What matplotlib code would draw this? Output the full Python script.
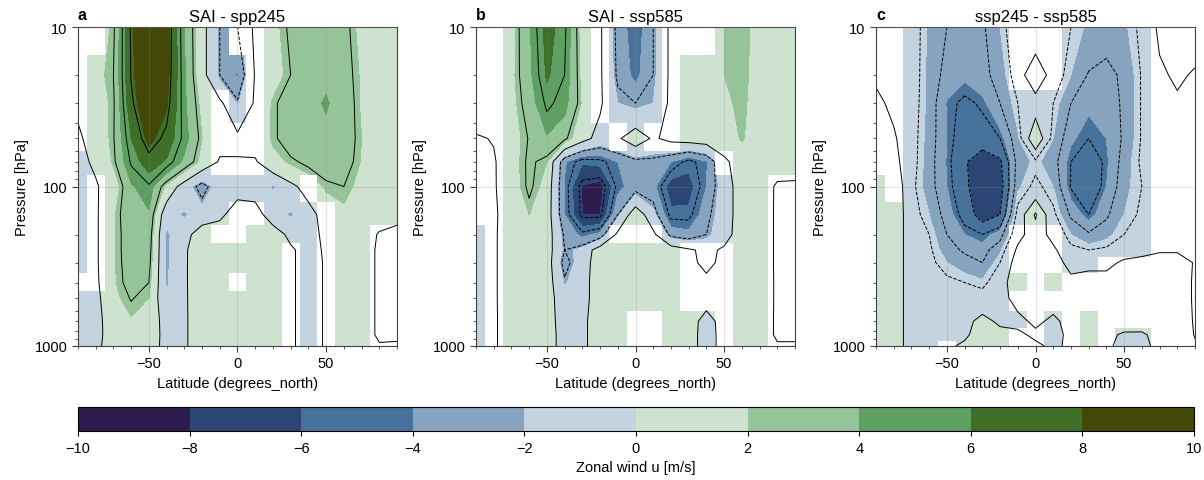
import numpy as np
import matplotlib
matplotlib.use("Agg")
import matplotlib.pyplot as plt
from matplotlib.colors import ListedColormap, BoundaryNorm
from matplotlib.ticker import MultipleLocator, NullFormatter

plt.rcParams['font.family'] = ['Liberation Sans', 'DejaVu Sans']
plt.rcParams['font.size'] = 10.5

# grid of the fields: rows are pressure levels (top to bottom), columns latitudes
lat = np.arange(-90, 91, 10)
plev = [10, 20, 30, 50, 70, 100, 150, 200, 250, 300, 400, 500, 700, 850, 1000]

titles = ['SAI - spp245', 'SAI - ssp585', 'ssp245 - ssp585']
letters = ['a', 'b', 'c']

# zonal wind difference [m/s], panel a
u_sai_245 = [
    [1.0, 1.2, 2.2, 7.8, 9.6, 8.8, 4.0, 0.8, -2.5, -2.5, 0.5, 1.5, 2.8, 3.2, 3.5, 3.0, 1.5, 1.2, 1.0],
    [1.2, 1.5, 2.5, 7.6, 9.6, 8.6, 4.2, 0.8, -2.5, -4.2, 0.2, 1.2, 2.5, 3.5, 3.8, 3.2, 1.8, 1.2, 1.0],
    [0.3, 1.2, 2.3, 7.2, 9.5, 8.2, 4.3, 1.5, 0.5, -2.2, 0.3, 2.2, 3.4, 3.7, 4.1, 3.5, 1.8, 1.3, 1.1],
    [-0.3, 0.8, 2.4, 6.0, 8.5, 7.0, 4.6, 2.0, 0.6, 0.6, 0.8, 2.2, 3.4, 3.6, 3.7, 3.4, 2.0, 1.4, 1.2],
    [-0.5, 0.3, 2.2, 5.2, 6.8, 5.8, 3.6, 1.5, -0.2, -0.2, -0.2, 1.5, 2.2, 2.9, 3.3, 3.2, 1.9, 1.4, 1.2],
    [-0.5, -0.2, 1.0, 3.8, 4.8, 1.5, -1.0, -3.3, -1.0, -0.8, -0.8, -2.2, -0.5, 0.8, 2.2, 2.5, 1.5, 1.2, 1.0],
    [-0.8, -0.3, 1.8, 3.6, 3.8, -1.5, -2.2, -1.2, -0.5, 1.1, 0.8, -1.0, -2.3, -0.8, 0.9, 1.6, 1.3, 1.0, 0.3],
    [-0.8, -0.3, 1.8, 3.4, 3.3, -2.3, -0.8, 1.2, 1.3, 1.5, 1.3, 1.0, -0.5, -0.8, 0.5, 1.2, 1.2, -0.2, -0.3],
    [-0.8, -0.3, 1.8, 3.4, 3.1, -2.3, -0.3, 1.3, 1.4, 1.5, 1.4, 1.2, 0.3, -0.8, 0.3, 1.3, 1.2, -0.4, -0.4],
    [-0.8, -0.3, 1.8, 3.3, 2.9, -2.3, -0.3, 1.4, 1.5, 1.6, 1.5, 1.3, 0.3, -0.8, 0.2, 1.3, 1.2, -0.4, -0.4],
    [-0.8, -0.4, 1.8, 3.1, 2.5, -2.2, -0.3, 1.4, 1.5, 1.6, 1.5, 1.3, 0.3, -0.8, 0.2, 1.3, 1.2, -0.4, -0.4],
    [-0.8, -0.6, 1.6, 2.6, 2.0, -2.0, -0.3, 1.3, 1.5, 1.6, 1.5, 1.3, 0.3, -0.8, 0.2, 1.3, 1.2, -0.4, -0.4],
    [-0.8, -0.8, 1.3, 1.8, 1.5, -1.0, -0.3, 1.2, 1.4, 1.5, 1.4, 1.2, 0.3, -0.8, 0.2, 1.3, 1.2, -0.4, -0.4],
    [-0.8, -0.8, 1.2, 1.3, 1.3, -0.8, -0.3, 1.2, 1.3, 1.4, 1.3, 1.2, 0.3, -0.8, 0.2, 1.3, 1.2, -0.4, -0.4],
    [-0.8, -0.5, 1.0, 1.2, 1.2, -0.8, -0.3, 1.2, 1.3, 1.4, 1.3, 1.2, 0.3, -0.8, 0.2, 1.3, 1.2, 0.2, 0.3],
]
# 1 = significant (coloured), 0 = not significant (white)
sig_sai_245 = [
    "0011111110011111111",
    "0111111111011111111",
    "0111111101011111111",
    "0111111100011111111",
    "1111111100011111111",
    "1011111111111011111",
    "1011111110011101111",
    "1011111100111101100",
    "1011111111110101100",
    "1011111111110101100",
    "0011111110110101100",
    "1111111111110101100",
    "1111111111110101100",
    "1111111111110101100",
    "1111111111110101100",
]

# panel b
u_sai_585 = [
    [0.5, 0.8, 1.5, 3.8, 6.6, 5.3, 1.2, 0.3, -3.0, -5.0, -2.5, 0.5, 0.6, 0.8, 2.0, 2.4, 1.5, 1.2, 1.0],
    [0.6, 0.9, 1.6, 3.6, 6.2, 5.0, 1.5, 0.3, -2.8, -4.5, -2.5, 0.5, 1.0, 1.1, 2.0, 2.3, 1.5, 1.2, 1.0],
    [1.1, 0.3, 1.5, 3.2, 5.3, 4.5, 1.8, 0.3, -2.0, -2.5, -2.0, 0.5, 1.2, 1.3, 1.8, 2.2, 1.5, 1.2, 1.0],
    [-0.2, 0.1, 1.3, 2.6, 3.8, 2.8, 0.8, -0.8, -0.3, 1.3, -0.3, 0.6, 1.0, 1.2, 1.4, 2.1, 1.4, 1.2, 1.0],
    [-0.4, -0.2, 1.3, 2.8, 2.0, -3.8, -5.8, -5.5, -4.0, -3.0, -3.0, -4.0, -5.5, -4.2, -0.5, 1.2, 1.3, 1.0, 0.8],
    [-0.4, -0.2, 1.2, 2.8, 1.4, -4.2, -8.2, -8.8, -4.5, -3.2, -3.5, -7.0, -6.8, -4.0, -1.0, 1.0, 1.2, -0.3, -0.3],
    [-0.4, -0.3, 1.0, 2.0, 1.2, -4.0, -8.0, -8.0, -2.5, 1.5, -1.5, -5.5, -5.5, -3.0, -1.0, 1.0, 1.1, -0.3, -0.3],
    [-0.8, -0.3, 1.2, 1.5, 1.2, -2.8, -4.5, -3.5, 0.5, 0.8, 0.5, -3.0, -3.5, -2.5, -0.8, 1.0, 1.1, -0.3, -0.3],
    [-0.8, -0.3, 1.2, 1.3, 1.1, -2.5, -1.5, 1.2, 1.3, 1.3, 1.3, 1.2, 0.3, -0.5, 0.3, 1.0, 1.1, -0.3, -0.3],
    [-0.8, -0.3, 1.2, 1.2, 1.1, -3.2, -1.0, 1.2, 1.4, 1.4, 1.4, 1.2, 0.3, -0.3, 0.3, 1.0, 1.1, -0.3, -0.3],
    [-0.8, -0.3, 1.2, 1.2, 1.1, -2.2, -0.8, 1.2, 1.4, 1.4, 1.4, 1.2, 0.5, 0.3, 0.5, 1.1, 1.2, -0.3, -0.3],
    [-0.8, -0.3, 1.2, 1.1, 1.1, -1.5, -0.8, 1.2, 1.4, 1.4, 1.4, 1.2, 0.6, 0.5, 0.6, 1.1, 1.2, -0.3, -0.3],
    [-0.8, -0.3, 1.1, 1.1, 1.1, -1.2, -0.5, 1.2, 1.4, 1.4, 1.4, 1.2, 0.6, -0.5, 0.5, 1.2, 1.1, -0.3, -0.3],
    [-0.8, -0.3, 1.1, 1.1, 1.1, -1.0, -0.5, 1.2, 1.4, 1.4, 1.4, 1.2, 0.6, -0.6, 0.5, 1.2, 1.1, -0.3, -0.3],
    [-0.5, -0.3, 1.1, 1.1, 1.1, -1.0, -0.5, 1.2, 1.4, 1.4, 1.4, 1.2, 0.6, -0.6, 0.5, 1.2, 1.1, 0.2, 0.2],
]
sig_sai_585 = [
    "0011111011100011111",
    "0011111011101111111",
    "0011111011101111111",
    "0011111101001111111",
    "0011111111111101111",
    "0011111111111111100",
    "0011111111111111100",
    "1011111100011111100",
    "1011111111110001100",
    "1011111111110001100",
    "1011111111110001100",
    "1011111111110001100",
    "1011111110011101100",
    "1011111110011101100",
    "1011111110011101100",
]

# panel c
u_245_585 = [
    [-0.3, -0.5, -0.8, -2.2, -3.0, -3.5, -3.2, -2.0, -0.5, -1.2, -0.5, -1.5, -2.2, -2.6, -2.2, -1.2, 0.3, 1.0, 0.8],
    [-0.2, -0.5, -0.8, -2.3, -3.4, -3.8, -3.3, -2.6, -0.8, 1.3, -0.8, -2.0, -3.1, -3.3, -2.8, -1.4, -0.3, 0.3, -0.2],
    [0.3, -0.3, -0.9, -2.3, -4.1, -4.8, -4.3, -3.0, -1.5, -0.8, -1.5, -3.0, -3.8, -3.6, -2.8, -1.4, -0.3, -0.3, -0.3],
    [1.3, 0.2, -1.0, -2.4, -4.0, -5.3, -5.2, -4.5, -2.2, 1.4, -2.0, -3.8, -4.5, -4.0, -2.8, -1.4, -0.3, -0.3, -0.3],
    [1.1, 0.5, -1.0, -2.5, -4.1, -5.8, -7.0, -6.3, -2.5, -1.8, -2.5, -4.5, -5.5, -4.2, -2.5, -1.3, -0.3, -0.3, -0.3],
    [1.3, 1.2, -1.2, -2.5, -4.0, -5.6, -7.3, -6.8, -2.2, -1.2, -2.0, -4.6, -5.7, -4.0, -2.3, -1.5, -0.3, -0.3, -0.3],
    [1.3, 1.2, -1.0, -2.0, -3.5, -5.0, -6.8, -6.0, -1.0, 1.7, -1.2, -3.2, -4.5, -3.2, -2.0, -1.3, -0.3, -0.3, -0.3],
    [1.3, 1.2, -1.0, -1.5, -3.0, -4.0, -4.5, -3.5, -0.5, 0.8, -0.5, -2.0, -2.8, -2.3, -1.5, -1.0, -0.3, -0.3, -0.3],
    [1.3, 1.2, -1.0, -1.3, -2.5, -3.2, -3.5, -2.2, 0.3, 0.6, 0.3, -1.2, -1.5, -1.3, -0.8, -0.6, -0.3, -0.3, -0.3],
    [1.3, 1.2, -1.0, -1.2, -2.0, -2.5, -3.0, -1.5, 0.8, 0.5, 0.8, -0.6, -0.5, -0.5, 0.3, 0.6, 1.2, 1.2, -0.2],
    [1.3, 1.2, -1.0, -1.1, -1.2, -1.5, -1.8, -0.8, 1.2, 0.7, 1.2, 0.5, 0.8, 0.8, 0.8, 1.1, 1.2, 1.2, -0.3],
    [1.3, 1.2, -1.0, -0.8, -0.8, -0.8, -1.0, -0.5, 0.5, 0.5, 0.6, 0.8, 0.8, 1.2, 1.2, 1.2, 1.2, 1.2, -0.3],
    [1.3, 1.2, -1.0, -0.6, -0.6, -0.5, 0.5, -0.3, -0.4, 0.3, -0.3, 0.5, 1.1, 0.8, 1.1, 1.0, 1.2, 1.2, -0.2],
    [1.3, 1.2, -1.0, -0.6, -0.5, -0.3, 0.8, 0.5, 0.3, -0.3, -0.4, 0.3, 1.2, 0.5, -0.3, -0.3, 0.7, 1.2, -0.1],
    [1.3, 1.2, -1.0, -0.5, -0.3, 0.3, 0.8, 0.6, 0.3, 0.3, -0.3, 0.3, 1.1, 0.3, -0.5, -0.5, 0.5, 1.0, 0.2],
]
sig_245_585 = [
    "0011111100011111000",
    "0011111100011111000",
    "0011111111111111000",
    "0011111111111111000",
    "0011111111111111000",
    "1011111111111111000",
    "1111111111111111000",
    "1111111100011111000",
    "1111111100011111000",
    "1111111100011000000",
    "1111111110100000000",
    "1111111100000000000",
    "1111111110101000000",
    "1111111100101011000",
    "1111011100101011000",
]

fields = [u_sai_245, u_sai_585, u_245_585]
masks = [sig_sai_245, sig_sai_585, sig_245_585]

cb_colors = ['#2d1b4e', '#2b4574', '#46729b', '#86a4c0', '#c4d3e0',
             '#cde2cf', '#96c499', '#5da061', '#3e6e27', '#444806']
bounds = np.arange(-10, 11, 2)
line_levels = [
    [-7.5, -5, -2.5, 0, 2.5, 5, 7.5],
    [-7.5, -5, -2.5, 0, 2.5, 5, 7.5],
    [-7.5, -6, -4.5, -3, -1.5, 0, 1.5],
]

cmap = ListedColormap(cb_colors)
norm = BoundaryNorm(bounds, cmap.N)

W, H = 1204, 481
fig = plt.figure(figsize=(W / 100, H / 100), dpi=100)
lefts = [78, 476, 876]

for k in range(3):
    u = np.array(fields[k])
    sig = np.array([[int(c) for c in row] for row in masks[k]])
    ax = fig.add_axes([lefts[k] / W, 1 - 347 / H, 319 / W, 319 / H])
    cf = ax.contourf(lat, plev, u, levels=bounds, cmap=cmap, norm=norm, zorder=1)
    white = np.ma.masked_where(sig == 1, np.zeros_like(u))
    ax.pcolormesh(lat, plev, white, cmap=ListedColormap(['white']),
                  shading='nearest', zorder=1.5)
    ax.contour(lat, plev, u, levels=line_levels[k], colors='k', linewidths=0.7, zorder=2)

    ax.set_yscale('log')
    ax.set_ylim(1000, 10)
    ax.set_xlim(-90, 90)
    ax.set_yticks([10, 100, 1000])
    ax.set_yticklabels(['10', '100', '1000'])
    ax.yaxis.set_minor_formatter(NullFormatter())
    ax.set_xticks([-50, 0, 50])
    ax.xaxis.set_minor_locator(MultipleLocator(10))
    ax.grid(True, which='major', color='0.55', alpha=0.25, lw=0.8)
    ax.set_axisbelow(False)
    for s in ax.spines.values():
        s.set_color('0.25')
        s.set_linewidth(0.8)
    ax.tick_params(which='major', length=4, width=0.8, color='0.25')
    ax.tick_params(which='minor', length=2.5, width=0.6, color='0.25')

    ax.set_xlabel('Latitude (degrees_north)')
    ax.set_ylabel('Pressure [hPa]')
    ax.set_title(titles[k], fontsize=12, pad=4)
    ax.text(0.0, 1.015, letters[k], transform=ax.transAxes, fontsize=11.5,
            fontweight='bold', ha='left', va='bottom')

cax = fig.add_axes([78 / W, 1 - 432 / H, 1116 / W, 24 / H])
cb = fig.colorbar(cf, cax=cax, orientation='horizontal', ticks=bounds)
cb.set_label('Zonal wind u [m/s]')
cb.outline.set_linewidth(0.8)

fig.savefig('out.png', dpi=100)
